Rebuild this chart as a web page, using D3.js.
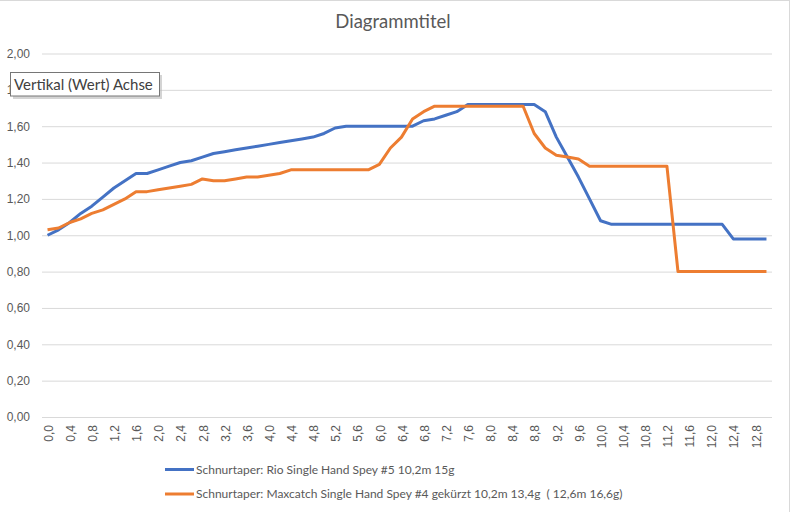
<!DOCTYPE html>
<html>
<head>
<meta charset="utf-8">
<script src="https://cdn.jsdelivr.net/npm/d3@7"></script>
<style>
  body { margin: 0; background: #fff; }
  svg { display: block; }
</style>
</head>
<body>
<div id="chart"></div>
<script>
// x categories (Länge in m)
const categories = [
    "0,0", "0,2", "0,4", "0,6", "0,8", "1,0", "1,2", "1,4", "1,6", "1,8",
    "2,0", "2,2", "2,4", "2,6", "2,8", "3,0", "3,2", "3,4", "3,6", "3,8",
    "4,0", "4,2", "4,4", "4,6", "4,8", "5,0", "5,2", "5,4", "5,6", "5,8",
    "6,0", "6,2", "6,4", "6,6", "6,8", "7,0", "7,2", "7,4", "7,6", "7,8",
    "8,0", "8,2", "8,4", "8,6", "8,8", "9,0", "9,2", "9,4", "9,6", "9,8",
    "10,0", "10,2", "10,4", "10,6", "10,8", "11,0", "11,2", "11,4", "11,6", "11,8",
    "12,0", "12,2", "12,4", "12,6", "12,8", "13,0"
];

// only every second category gets a label
const xTickLabels = [
    "0,0", "0,4", "0,8", "1,2", "1,6", "2,0", "2,4", "2,8", "3,2", "3,6", "4,0",
    "4,4", "4,8", "5,2", "5,6", "6,0", "6,4", "6,8", "7,2", "7,6", "8,0", "8,4",
    "8,8", "9,2", "9,6", "10,0", "10,4", "10,8", "11,2", "11,6", "12,0", "12,4", "12,8"
];

const yTicks = [0, 0.2, 0.4, 0.6, 0.8, 1.0, 1.2, 1.4, 1.6, 1.8, 2.0];

const rioValues = [
    1.00, 1.03, 1.07, 1.12, 1.16, 1.21, 1.26, 1.30, 1.34, 1.34,
    1.36, 1.38, 1.40, 1.41, 1.43, 1.45, 1.46, 1.47, 1.48, 1.49,
    1.50, 1.51, 1.52, 1.53, 1.54, 1.56, 1.59, 1.60, 1.60, 1.60,
    1.60, 1.60, 1.60, 1.60, 1.63, 1.64, 1.66, 1.68, 1.72, 1.72,
    1.72, 1.72, 1.72, 1.72, 1.72, 1.68, 1.54, 1.43, 1.32, 1.20,
    1.08, 1.06, 1.06, 1.06, 1.06, 1.06, 1.06, 1.06, 1.06, 1.06,
    1.06, 1.06, 0.98, 0.98, 0.98, 0.98
];

const maxcatchValues = [
    1.03, 1.04, 1.07, 1.09, 1.12, 1.14, 1.17, 1.20, 1.24, 1.24,
    1.25, 1.26, 1.27, 1.28, 1.31, 1.30, 1.30, 1.31, 1.32, 1.32,
    1.33, 1.34, 1.36, 1.36, 1.36, 1.36, 1.36, 1.36, 1.36, 1.36,
    1.39, 1.48, 1.54, 1.64, 1.68, 1.71, 1.71, 1.71, 1.71, 1.71,
    1.71, 1.71, 1.71, 1.71, 1.56, 1.48, 1.44, 1.43, 1.42, 1.38,
    1.38, 1.38, 1.38, 1.38, 1.38, 1.38, 1.38, 0.80, 0.80, 0.80,
    0.80, 0.80, 0.80, 0.80, 0.80, 0.80
];

const seriesNames = [
    "Schnurtaper: Rio Single Hand Spey #5 10,2m 15g",
    "Schnurtaper: Maxcatch Single Hand Spey #4 gekürzt 10,2m 13,4g  ( 12,6m 16,6g)"
];
const seriesColors = ["#4472C4", "#ED7D31"];

const svgWidth = 791;
const svgHeight = 512;
const plot = { left: 42, right: 772, top: 53.5, bottom: 417 };
const textColor = "#595959";

const svg = d3.select("#chart")
    .append("svg")
    .attr("width", svgWidth)
    .attr("height", svgHeight);

// chart border (only top and right edge are inside the picture)
svg.append("rect")
    .attr("x", -5)
    .attr("y", 0.5)
    .attr("width", 794.5)
    .attr("height", 530)
    .attr("fill", "#fff")
    .attr("stroke", "#d9d9d9");

// Scales
const xScale = d3.scaleBand()
    .domain(categories)
    .range([plot.left, plot.right])
    .paddingInner(0)
    .paddingOuter(0);

const yScale = d3.scaleLinear()
    .domain([0, 2])
    .range([plot.bottom, plot.top]);

const xPos = c => xScale(c) + xScale.bandwidth() / 2;

// Gridlines + y labels
const yAxis = svg.append("g")
    .attr("transform", `translate(${plot.left},0)`)
    .call(d3.axisLeft(yScale)
        .tickValues(yTicks)
        .tickSize(-(plot.right - plot.left))
        .tickPadding(12)
        .tickFormat(d => d3.format(".2f")(d).replace(".", ",")));
yAxis.select(".domain").remove();
yAxis.selectAll(".tick line")
    .attr("stroke", "#d9d9d9")
    .attr("stroke-width", 1);
yAxis.selectAll(".tick text")
    .attr("fill", textColor)
    .attr("font-family", "'Liberation Sans', Arial, sans-serif")
    .attr("font-size", "12px");

// x labels (rotated)
const xAxis = svg.append("g")
    .attr("transform", `translate(0,${plot.bottom})`)
    .call(d3.axisBottom(xScale)
        .tickValues(xTickLabels)
        .tickSize(0)
        .tickPadding(0));
xAxis.select(".domain").remove();
xAxis.selectAll(".tick text")
    .attr("fill", textColor)
    .attr("font-family", "'Liberation Sans', Arial, sans-serif")
    .attr("font-size", "12px")
    .attr("text-anchor", "end")
    .attr("transform", "rotate(-90)")
    .attr("x", -8)
    .attr("y", 1)
    .attr("dy", "0.35em");

// Lines
const line = d3.line()
    .x((d, i) => xPos(categories[i]))
    .y(d => yScale(d));

[rioValues, maxcatchValues].forEach((values, k) => {
    svg.append("path")
        .datum(values)
        .attr("fill", "none")
        .attr("stroke", seriesColors[k])
        .attr("stroke-width", 3)
        .attr("stroke-linejoin", "round")
        .attr("d", line);
});

// Title
svg.append("text")
    .attr("x", 393)
    .attr("y", 28)
    .attr("text-anchor", "middle")
    .attr("fill", textColor)
    .attr("font-family", "Lato, 'Open Sans', sans-serif")
    .attr("font-size", "18.5px")
    .text("Diagrammtitel");

// Legend
const legend = svg.append("g");
const legendY = [469.5, 494];
seriesNames.forEach((name, k) => {
    legend.append("line")
        .attr("x1", 165)
        .attr("x2", 194)
        .attr("y1", legendY[k])
        .attr("y2", legendY[k])
        .attr("stroke", seriesColors[k])
        .attr("stroke-width", 3);
    legend.append("text")
        .attr("x", 196)
        .attr("y", legendY[k])
        .attr("dy", "0.35em")
        .attr("fill", textColor)
        .attr("font-family", "Lato, 'Open Sans', sans-serif")
        .attr("font-size", "12px")
        .style("white-space", "pre")
        .text(name);
});

// Tooltip over the vertical axis
const tip = svg.append("g");
tip.append("rect")
    .attr("x", 13)
    .attr("y", 75)
    .attr("width", 149)
    .attr("height", 24)
    .attr("fill", "#b8b8b8")
    .attr("opacity", 0.6);
tip.append("rect")
    .attr("x", 10.5)
    .attr("y", 72.5)
    .attr("width", 149)
    .attr("height", 23.5)
    .attr("fill", "#fff")
    .attr("stroke", "#767676");
tip.append("text")
    .attr("x", 14)
    .attr("y", 90)
    .attr("fill", "#404040")
    .attr("font-family", "Lato, 'Open Sans', sans-serif")
    .attr("font-size", "15px")
    .text("Vertikal (Wert) Achse");
</script>
</body>
</html>
